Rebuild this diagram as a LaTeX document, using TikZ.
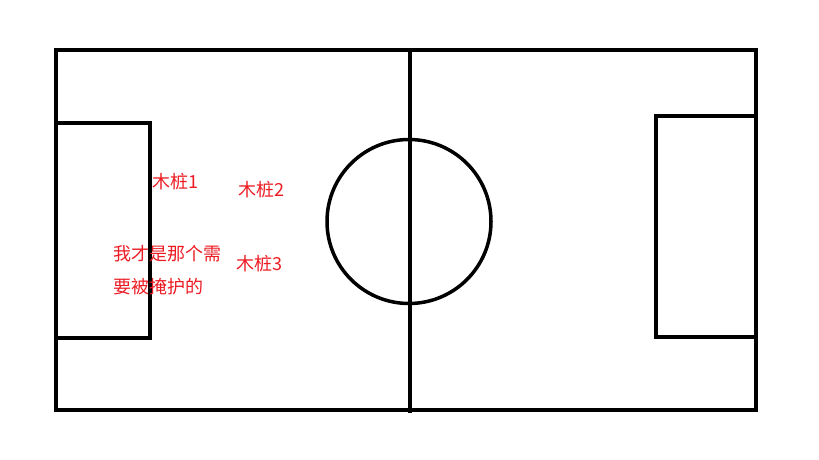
\documentclass[tikz,border=0pt]{standalone}
\usepackage{fontspec}
\newfontfamily\cjk{Noto Sans CJK SC}
\definecolor{cR}{RGB}{237,28,36}

\begin{document}
\begin{tikzpicture}[x=1pt, y=-1pt,
line/.style={draw, line width=4pt, color=black},
ring/.style={draw, line width=3.5pt, color=black},
tag/.style={anchor=west, inner sep=0pt, text=cR, font=\cjk\fontsize{18}{20}\selectfont}]

\useasboundingbox (0,0) rectangle (819,460);
\fill[white] (0,0) rectangle (819,460);

% pitch
\path[line] (56,50) rectangle (756,410);
\path[line] (410,50) -- (410,413);
\path[ring] (409,221.5) circle[radius=82];

% boxes
\path[line] (56,123) rectangle (150,338);
\path[line] (656,116) rectangle (756,337);

% texts
\node[tag] (pole1) at (152.5,181.5) {木桩1};
\node[tag] (pole2) at (238,190) {木桩2};
\node[tag] (pole3) at (236.5,263.5) {木桩3};
\node[tag] (me1) at (113,254) {我才是那个需};
\node[tag] (me2) at (113,286.5) {要被掩护的};
\end{tikzpicture}
\end{document}
